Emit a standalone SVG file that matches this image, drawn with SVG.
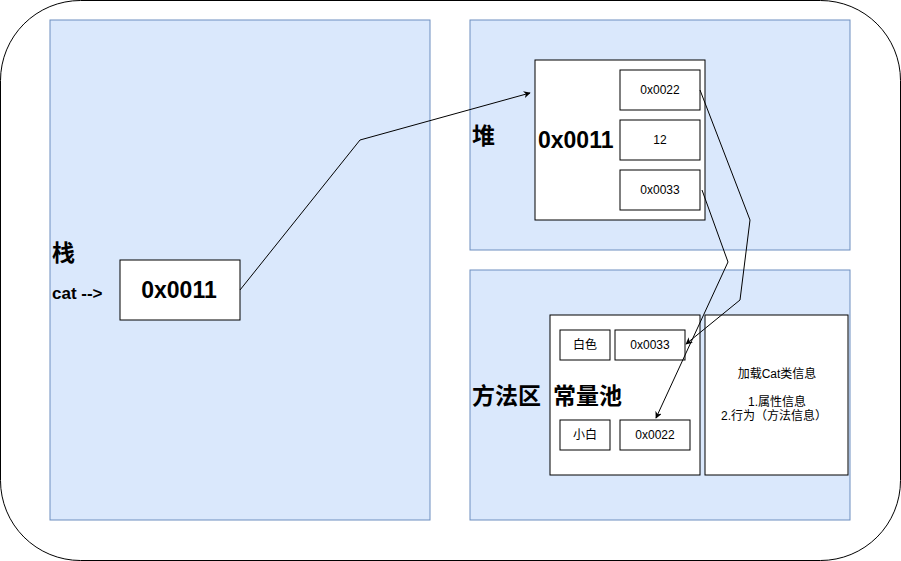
<svg xmlns="http://www.w3.org/2000/svg" width="901" height="561" viewBox="0 0 901 561">
<style>
.region{fill:#dae8fc;stroke:#6c8ebf;stroke-width:1}
.box{fill:#fff;stroke:#000;stroke-width:1}
.big{font-family:"Liberation Sans","Noto Sans CJK SC",sans-serif;font-weight:bold;font-size:23px;fill:#000}
.mid{font-family:"Liberation Sans","Noto Sans CJK SC",sans-serif;font-weight:bold;font-size:17px;fill:#000}
.sm{font-family:"Liberation Sans","Noto Sans CJK SC",sans-serif;font-size:12px;fill:#000;text-anchor:middle}
.cl{font-family:"Liberation Sans","Noto Sans CJK SC",sans-serif;font-size:12px;fill:#000;text-anchor:middle}
.edge{fill:none;stroke:#000;stroke-width:1}
</style>
<defs>
<marker id="arr" viewBox="0 0 10 10" refX="9" refY="5" markerWidth="7" markerHeight="7" orient="auto" markerUnits="userSpaceOnUse">
<path d="M0,0 L10,5 L0,10 L3,5 Z" fill="#000"/>
</marker>
</defs>
<rect x="0.5" y="0.5" width="900" height="560" rx="80" ry="80" fill="#fff" stroke="#000" stroke-width="1"/>
<g id="stack">
<rect class="region" x="50" y="20" width="380" height="500"/>
<text class="big" x="52" y="261">栈</text>
<text class="mid" x="52" y="299">cat --&gt;</text>
</g>
<g id="stack-ref">
<rect class="box" x="120" y="260" width="120" height="60"/>
<text class="big" x="179" y="298" text-anchor="middle">0x0011</text>
</g>
<g id="heap">
<rect class="region" x="470" y="20" width="380" height="230"/>
<text class="big" x="472" y="144">堆</text>
</g>
<g id="heap-object">
<rect class="box" x="535" y="60" width="170" height="160"/>
<text class="big" x="538" y="148">0x0011</text>
</g>
<g id="heap-name"><rect class="box" x="620" y="70" width="80" height="40"/><text class="sm" x="660" y="94">0x0022</text></g>
<g id="heap-age"><rect class="box" x="620" y="120" width="80" height="40"/><text class="sm" x="660" y="144">12</text></g>
<g id="heap-color"><rect class="box" x="620" y="170" width="80" height="40"/><text class="sm" x="660" y="194">0x0033</text></g>
<g id="method-area">
<rect class="region" x="470" y="270" width="380" height="250"/>
<text class="big" x="472" y="404">方法区</text>
</g>
<g id="const-pool">
<rect class="box" x="550" y="315" width="150" height="160"/>
<text class="big" x="553" y="404">常量池</text>
</g>
<g id="c-white"><rect class="box" x="560" y="330" width="50" height="30"/><text class="sm" x="585" y="349">白色</text></g>
<g id="c-0033"><rect class="box" x="615" y="330" width="70" height="30"/><text class="sm" x="650" y="349">0x0033</text></g>
<g id="c-xiaobai"><rect class="box" x="560" y="420" width="50" height="30"/><text class="sm" x="585" y="439">小白</text></g>
<g id="c-0022"><rect class="box" x="620" y="420" width="70" height="30"/><text class="sm" x="655" y="439">0x0022</text></g>
<g id="class-info">
<rect class="box" x="705" y="315" width="143" height="160"/>
<text class="cl" x="777" y="378">加载Cat类信息</text>
<text class="cl" x="777" y="406">1.属性信息</text>
<text class="cl" x="774" y="420">2.行为（方法信息）</text>
</g>
<g id="connectors">
<polyline class="edge" points="240,290 360,140 530,93" marker-end="url(#arr)"/>
<polyline class="edge" points="700,90 750,220 740,300 686,344" marker-end="url(#arr)"/>
<polyline class="edge" points="702,190 728,262 656,418" marker-end="url(#arr)"/>
</g>
</svg>
